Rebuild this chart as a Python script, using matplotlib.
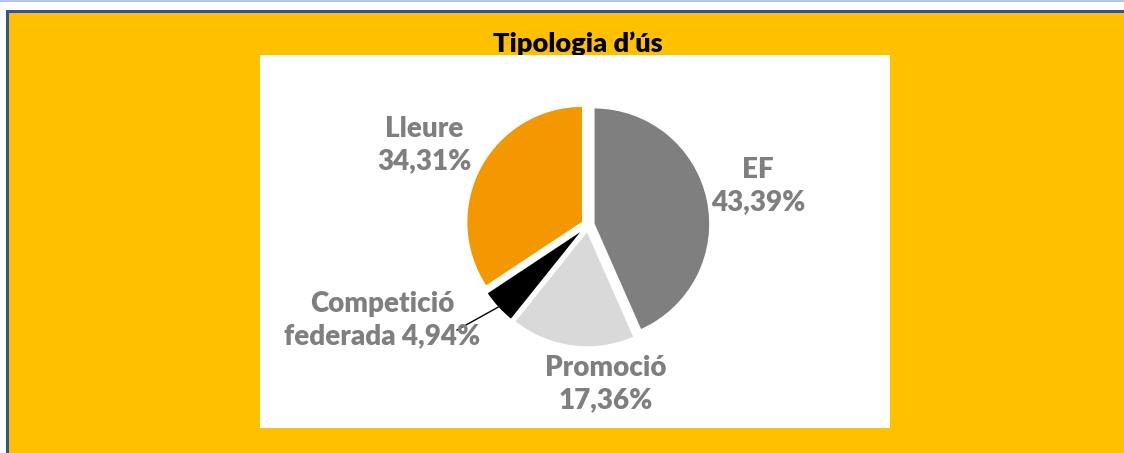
import numpy as np
import matplotlib
matplotlib.use("Agg")
import matplotlib.pyplot as plt
from matplotlib.patches import Rectangle

# ---- data ----
categories = ["EF", "Promoció", "Competició\nfederada", "Lleure"]
values = [43.39, 17.36, 4.94, 34.31]
colors = ["#7F7F7F", "#D9D9D9", "#000000", "#F39800"]
title = "Tipologia d\u2019ús"

W, H = 1124, 453
fig = plt.figure(figsize=(W / 100, H / 100), dpi=100)
fig.patch.set_facecolor("white")

# light top line
fig.add_artist(Rectangle((0, 1 - 1.5 / H), 1, 1.5 / H, transform=fig.transFigure,
                         facecolor="#B4C7E7", edgecolor="none", zorder=-5))
# orange frame with blue border
fig.add_artist(Rectangle((6 / W, -0.05), 1.1, 1.05 - 10 / H, transform=fig.transFigure,
                         facecolor="#FFC000", edgecolor="none", zorder=-4))
fig.add_artist(Rectangle((6 / W, -0.05), 3 / W, 1.05 - 10 / H, transform=fig.transFigure,
                         facecolor="#2F5597", edgecolor="none", zorder=-3))
fig.add_artist(Rectangle((6 / W, 1 - 13 / H), 1.1, 3 / H, transform=fig.transFigure,
                         facecolor="#2F5597", edgecolor="none", zorder=-3))

FONT = "Lato"
fig.text(578 / W, 1 - 44 / H, title, ha="center", va="center", fontsize=19.5,
         fontweight="heavy", family=FONT, color="black", zorder=-1)

# plot area (white) in pixel coordinates, y upward
x0, x1, y0, y1 = 260, 890, 55, 428
ax = fig.add_axes([x0 / W, 1 - y1 / H, (x1 - x0) / W, (y1 - y0) / H])
ax.set_zorder(0)

cx, cy, R = 588, H - 225, 116
expl = 6  # matplotlib's explode is in data units
wedges, _ = ax.pie(values, colors=colors, startangle=90, counterclock=False,
                   center=(cx, cy), radius=R, explode=[expl] * len(values),
                   wedgeprops=dict(edgecolor="white", linewidth=1))
ax.set_frame_on(True)
ax.patch.set_facecolor("white")
ax.patch.set_visible(True)
ax.set_xlim(x0, x1)
ax.set_ylim(H - y1, H - y0)
ax.set_aspect("auto")
ax.set_xticks([])
ax.set_yticks([])
for s in ax.spines.values():
    s.set_visible(False)

def fmt(v):
    return f"{v:.2f}".replace(".", ",") + "%"

lab_col = "#7F7F7F"
fs = 20
labels = [
    (f"{categories[0]}\n{fmt(values[0])}", 758, 186),
    (f"{categories[1]}\n{fmt(values[1])}", 606, 384),
    (f"Competició\nfederada {fmt(values[2])}", 382, 320),
    (f"{categories[3]}\n{fmt(values[3])}", 424, 145),
]
for txt, x, y in labels:
    ax.text(x, H - y, txt, ha="center", va="center", fontsize=fs, fontweight="heavy",
            family=FONT, color=lab_col, linespacing=1.3)

# leader line for small slice, ending on the wedge's outer edge
w = wedges[2]
mid = np.deg2rad((w.theta1 + w.theta2) / 2)
ex = w.center[0] + w.r * np.cos(mid)
ey = w.center[1] + w.r * np.sin(mid)
ax.plot([457, ex], [H - 330, ey], color="black", lw=1)

fig.savefig("out.png", dpi=100, facecolor=fig.get_facecolor())
